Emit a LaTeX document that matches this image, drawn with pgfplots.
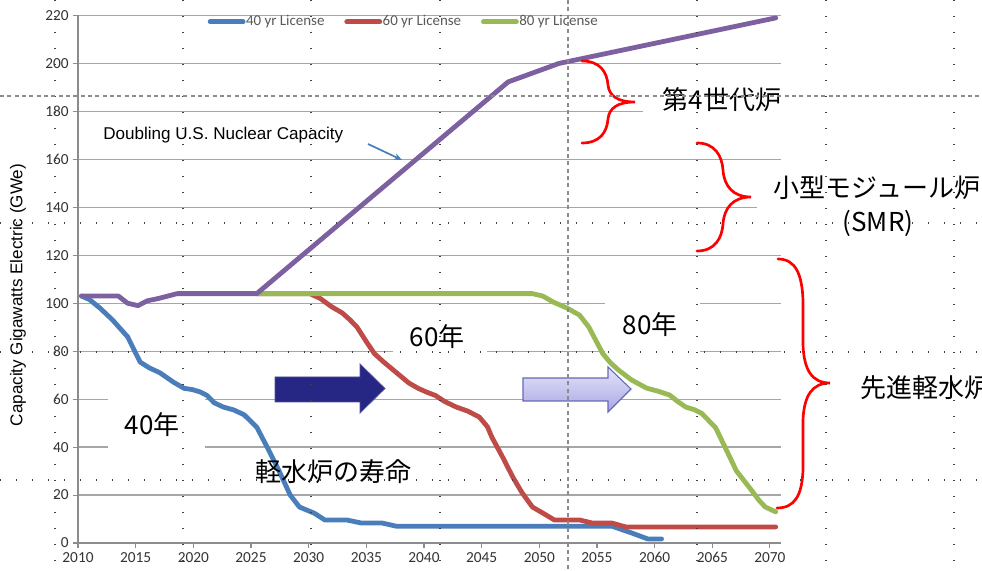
\documentclass[border=0pt]{standalone}
\usepackage{fontspec}
\usepackage{pgfplots}
\pgfplotsset{compat=1.18}
\usetikzlibrary{arrows.meta}
\setmainfont{Liberation Sans}
\newfontfamily\cjk{Noto Sans CJK JP}
\newfontfamily\calibri{Carlito}
\definecolor{cBlue}{HTML}{4A7EBB}
\definecolor{cRed}{HTML}{BE4B48}
\definecolor{cGreen}{HTML}{98B954}
\definecolor{cPurple}{HTML}{7D60A0}
\definecolor{gridgray}{HTML}{A6A6A6}
\definecolor{axisgray}{HTML}{8C8C8C}
\definecolor{navyA}{RGB}{38,38,132}
\definecolor{lavTop}{RGB}{228,228,250}
\definecolor{lavBot}{RGB}{168,168,228}
\definecolor{lavEdge}{RGB}{104,104,184}
\newcommand{\jp}{\cjk\fontsize{19.5}{22}\selectfont}
\begin{document}
\begin{tikzpicture}
\useasboundingbox (0,0) rectangle (736.5pt,428.25pt);
\fill[white] (0,0) rectangle (736.5pt,428.25pt);
\begin{axis}[
  at={(58.5pt,21pt)}, anchor=south west,
  scale only axis, width=527.625pt, height=395.625pt,
  xmin=2010, xmax=2071, ymin=0, ymax=220,
  axis lines=left, axis line style={-, draw=axisgray, line width=0.9pt},
  xtick={2010,2015,...,2070}, ytick={0,20,...,220},
  ymajorgrids, grid style={gridgray, line width=0.9pt},
  tick align=outside, major tick length=3.5pt, tick style={axisgray, line width=0.8pt},
  /pgf/number format/1000 sep={},
  /pgf/number format/assume math mode=true,
  tick label style={font=\calibri\fontsize{11.5}{13}\selectfont, text=black!80},
  ylabel={Capacity Gigawatts Electric (GWe)},
  ylabel style={at={(axis description cs:-0.0853,0.470)}, anchor=center, font=\fontsize{12.8}{15}\selectfont},
  legend style={at={(axis description cs:0.462,0.988)}, anchor=center, draw=none, fill=none,
     font=\calibri\fontsize{11.2}{13}\selectfont, text=black!65,
     /tikz/every odd column/.append style={column sep=0pt},
     /tikz/every even column/.append style={column sep=14.5pt},
     nodes={inner sep=0.4pt}},
  legend columns=3,
  legend image code/.code={\draw[#1, line width=3.6pt] (0pt,0pt) -- (24.75pt,0pt);},
  every axis plot/.append style={line width=3.6pt, line join=round, line cap=round},
]
% white text boxes that hide parts of the grid
\fill[white] (axis cs:2012.6,36.7) rectangle (axis cs:2021.0,63.0);
\fill[white] (axis cs:2037.3,77.2) rectangle (axis cs:2045.5,93.8);
\fill[white] (axis cs:2055.7,78.0) rectangle (axis cs:2063.9,105.5);
\fill[white] (axis cs:2059.0,174.3) rectangle (axis cs:2071.5,193.0);
\fill[white] (axis cs:2068.9,126.4) rectangle (axis cs:2071.5,157.6);

\addplot[cBlue] coordinates {(2010.3,103) (2011,101.5) (2011.9,98) (2013,93) (2014.3,86) (2015.4,75.4) (2016.2,73) (2017.1,71) (2018.3,67) (2019.2,64.5) (2019.9,64) (2020.6,63) (2021.2,61.5) (2021.8,58.5) (2022.6,56.7) (2023.5,55.5) (2024.4,53.5) (2025.5,48.3) (2026.4,40) (2027.4,30.4) (2028.4,20) (2029.2,15) (2030.5,12.4) (2031.4,9.6) (2033.3,9.6) (2034.6,8.3) (2036.4,8.3) (2037.6,7) (2056.3,7) (2058,4.2) (2059.4,1.7) (2060.6,1.7)};
\addlegendentry{40 yr License}
\addplot[cRed] coordinates {(2025.5,104) (2030.1,104) (2031,102) (2032,98.5) (2032.9,96) (2033.6,93) (2034.2,90) (2035,84) (2035.7,79) (2036.5,75.5) (2037.5,71.5) (2038.7,66.7) (2039.5,64.5) (2040.2,63) (2041,61.5) (2041.8,59) (2042.8,56.7) (2043.8,55) (2044.8,52.5) (2045.5,48.5) (2045.9,44) (2046.8,36) (2047.7,27.5) (2048.5,21) (2049.4,15) (2050.3,12.5) (2051.3,9.6) (2053.5,9.6) (2054.6,8.3) (2056.3,8.3) (2057.5,6.7) (2070.5,6.7)};
\addlegendentry{60 yr License}
\addplot[cGreen] coordinates {(2025.5,104) (2049.4,104) (2050.3,103) (2051.2,100.5) (2052.4,98) (2053.5,95) (2054.3,90) (2055.5,79) (2056.2,75) (2056.9,72) (2058,68) (2059.3,64.6) (2060.3,63.3) (2061.3,61.7) (2062,59) (2062.7,56.7) (2063.5,55.5) (2064.1,54) (2065.3,48) (2066.2,39) (2067.1,30) (2068.4,22) (2069.1,17.5) (2069.6,15) (2070.5,13)};
\addlegendentry{80 yr License}
\addplot[cPurple, forget plot] coordinates {(2010.3,103) (2013.5,103) (2014.3,100) (2015.2,99) (2016,101) (2017,102) (2018.6,104) (2025.5,104) (2047.3,192.3) (2051.7,200) (2070.5,219)};
\end{axis}

\begin{scope}[x=0.75pt, y=-0.75pt, shift={(0,428.25pt)}]
  % block arrows
  \fill[navyA, draw=navyA!80!white, line width=0.6pt] (275,377) -- (360,377) -- (360,364) -- (385,388.5) -- (360,413) -- (360,402) -- (275,402) -- cycle;
  \shade[top color=lavTop, bottom color=lavBot, draw=lavEdge, line width=0.8pt] (523,378) -- (608,378) -- (608,367) -- (631,389) -- (608,412) -- (608,401) -- (523,401) -- cycle;
  % doubling annotation
  \node[anchor=west, inner sep=0pt, font=\fontsize{12.8}{15}\selectfont] at (103,135) {Doubling U.S. Nuclear Capacity};
  \draw[cBlue, line width=1.3pt, -{Stealth[length=6pt,width=5pt]}] (368,144) -- (402,160);
  % red braces
  \begin{scope}[red, line width=2pt, line cap=round]
  \draw (582,61) .. controls (600,61) and (607,72) .. (608,85) .. controls (609,96) and (618,102) .. (635,102)
        .. controls (618,102) and (609,108) .. (608,119) .. controls (607,132) and (600,143) .. (582,143);
  \draw (697,143) .. controls (715,143) and (722,156) .. (723,170) .. controls (724,186) and (733,197) .. (751,197)
        .. controls (733,197) and (724,208) .. (723,224) .. controls (722,238) and (715,251) .. (697,251);
  \draw (778,259) .. controls (796,259) and (802,275) .. (803,300) -- (803,345) .. controls (804,370) and (812,383) .. (830,383)
        .. controls (812,383) and (804,396) .. (803,420) -- (803,470) .. controls (802,495) and (795,508) .. (777,508);
  \end{scope}
  % Japanese labels
  \node[inner sep=0pt] at (152,425) {\jp 40年};
  \node[inner sep=0pt] at (437,337) {\jp 60年};
  \node[inner sep=0pt] at (650,325) {\jp 80年};
  \node[inner sep=0pt] at (333,472) {\jp 軽水炉の寿命};
  \node[inner sep=0pt] at (722,100) {\jp 第4世代炉};
  \node[inner sep=0pt] at (877,188) {\jp 小型モジュール炉};
  \node[inner sep=0pt] at (878,223) {\jp (SMR)};
  \node[inner sep=0pt, anchor=west] at (860,388) {\jp 先進軽水炉};
  % slide guide lines
  \begin{scope}[black!75, line width=0.9pt, dash pattern=on 0.9pt off 11.1pt]
    \foreach \gx in {55,183,311,440,697,826,954} { \draw (\gx,0) -- (\gx,571); }
    \foreach \gy in {223,352,480} { \draw (0,\gy) -- (982,\gy); }
  \end{scope}
  \begin{scope}[black!45, line width=0.8pt, dash pattern=on 3pt off 2.5pt]
    \draw (0,96) -- (982,96);
    \draw (568,0) -- (568,571);
  \end{scope}
\end{scope}
\end{tikzpicture}
\end{document}
